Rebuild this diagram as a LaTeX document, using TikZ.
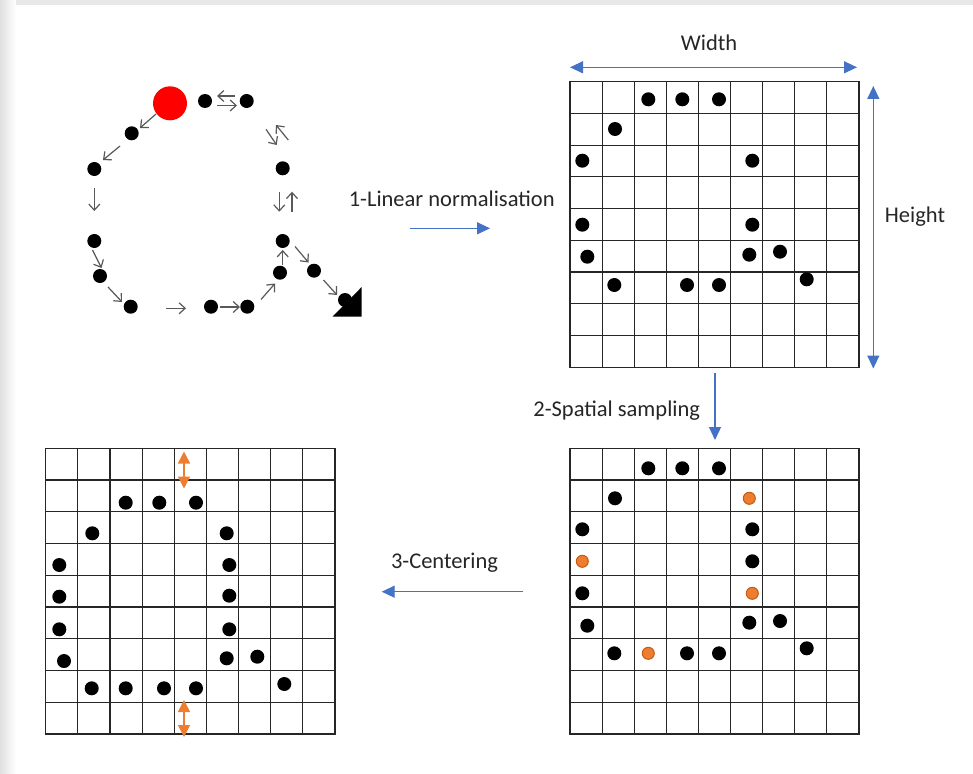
\documentclass[tikz,border=0pt]{standalone}
\usepackage{fontspec}
\setmainfont{Carlito}
\usetikzlibrary{arrows.meta}
\definecolor{blueA}{HTML}{4472C4}
\definecolor{orangeA}{HTML}{ED7D31}
\definecolor{orangeD}{HTML}{C55A11}
\definecolor{trajgray}{HTML}{595959}
\definecolor{txt}{HTML}{262626}
\newcommand\mygrid[4]{%
  \foreach \i in {0,...,9} {%
    \draw[gl] ({#1+\i*#3},#2) -- ({#1+\i*#3},{#2+9*#4});
    \draw[gl] (#1,{#2+\i*#4}) -- ({#1+9*#3},{#2+\i*#4});
  }}
\begin{document}
\begin{tikzpicture}[x=1pt,y=-1pt,
  bdot/.style={circle,fill=black,inner sep=0pt,minimum size=14pt},
  odot/.style={circle,fill=orangeA,draw=orangeD,line width=1pt,inner sep=0pt,minimum size=12pt},
  gl/.style={line width=1.2pt,draw=black!85,line cap=rect},
  traj/.style={draw=trajgray,line width=1.2pt,-{Straight Barb[length=6pt,width=11pt]}},
  bluearr/.style={draw=blueA,line width=1.3pt,-{Triangle[length=13pt,width=12pt]}},
  bluedbl/.style={draw=blueA,line width=1.3pt,{Triangle[length=13pt,width=12pt]}-{Triangle[length=13pt,width=12pt]}},
  oarr/.style={draw=orangeA,line width=1.6pt,{Triangle[length=12pt,width=12pt]}-{Triangle[length=12pt,width=12pt]}},
  lbl/.style={text=txt,font=\fontsize{22.5}{27}\selectfont,inner sep=0pt},
]
\useasboundingbox (0,0) rectangle (973,773);
% page shadow
\fill[white] (0,0) rectangle (973,773);
\fill[black!9] (0,0) rectangle (973,5);
\shade[left color=black!12,right color=white] (0,0) rectangle (16,773);

% ---------- trajectory ----------
\node[circle,fill=red,inner sep=0pt,minimum size=34pt] (red) at (170,103.3) {};
\node[bdot] (t1) at (205,101) {};
\node[bdot] (t2) at (246.7,101) {};
\node[bdot] (t3) at (131.7,133.3) {};
\node[bdot] (t4) at (94.3,169) {};
\node[bdot] (t5) at (282.7,168.3) {};
\node[bdot] (t6) at (94.3,241) {};
\node[bdot] (t7) at (282.7,241) {};
\node[bdot] (t8) at (100,276) {};
\node[bdot] (t9) at (280,272.7) {};
\node[bdot] (t10) at (314,270.7) {};
\node[bdot] (t11) at (130.7,306.7) {};
\node[bdot] (t12) at (211,306.7) {};
\node[bdot] (t13) at (247.3,306.7) {};
\fill[black] (332.7,316.5) -- (361.7,316.5) -- (361.7,287) -- cycle;
\node[bdot] (t14) at (345,300) {};

\draw[traj] (156,114) -- (140,128);
\draw[traj] (120,146) -- (103,160);
\draw[traj] (94.3,188) -- (94.3,211);
\draw[traj] (92.5,250) -- (101.5,268);
\draw[traj] (108,287) -- (122,302);
\draw[traj] (166,308.3) -- (186,308.3);
\draw[traj] (219.5,307) -- (240,307);
\draw[traj] (261,299.5) -- (275,283.5);
\draw[traj] (282.7,265) -- (282.7,250);
\draw[traj] (295,246.5) -- (308.5,262.5);
\draw[traj] (323.5,280) -- (337,295);
\draw[traj] (235,96) -- (217,96);
\draw[traj] (217,105.5) -- (237,105.5);
\draw[traj] (266,129.3) -- (276.7,145);
\draw[traj] (288.3,140) -- (276,125);
\draw[traj] (279.3,191.7) -- (279.3,211.7);
\draw[traj] (292,211.7) -- (292,191.7);

% ---------- grid A ----------
\mygrid{570}{81.7}{32.11}{31.73}
\foreach \x/\y [count=\k] in {648.3/99.3,682.3/99.3,719/99.3,615/129,582.3/160.7,752.3/160.7,582.3/224.7,752.3/224.7,587.3/256.7,749.3/254.7,780/251.7,614.3/285,687/285,719/285,806.7/279.3}
  \node[bdot] (a\k) at (\x,\y) {};

% ---------- grid B ----------
\mygrid{570}{448.3}{32.11}{31.74}
\foreach \x/\y [count=\k] in {648.3/468.3,682.3/468.3,719/468.3,615/498.3,582.3/529.3,752.3/529.3,752.3/561.3,582.3/593.3,587.3/625.7,749.3/622.7,780/621,614.3/653.3,687/653.3,719/653.3,806.7/648.3}
  \node[bdot] (b\k) at (\x,\y) {};
\foreach \x/\y [count=\k] in {749.3/498.3,582.3/561.3,752.3/593.3,648.3/653.3}
  \node[odot] (o\k) at (\x,\y) {};

% ---------- grid C ----------
\mygrid{45.7}{448.3}{32.14}{31.74}
\foreach \x/\y [count=\k] in {125.7/502.7,159.3/502.7,196/502.7,92.3/533.3,226.7/533.3,59.3/565,229.3/565,59.3/596.7,229.3/595.7,59.3/629.3,229.3/629.3,64/661,226.7/658.3,257.3/656.7,91.7/688.3,125.7/688.3,164/688.3,196/688.3,284.3/684}
  \node[bdot] (c\k) at (\x,\y) {};
\coordinate (ot1) at (184,451.5); \coordinate (ot2) at (184,488.5);
\coordinate (ob1) at (184,700); \coordinate (ob2) at (184,737);
\draw[oarr] (ot1) -- (ot2);
\draw[oarr] (ob1) -- (ob2);

% ---------- blue arrows & labels ----------
\coordinate (l1s) at (410,228.3); \coordinate (l1e) at (490,228.3);
\coordinate (w1) at (570,67.3); \coordinate (w2) at (857,67.3);
\coordinate (h1) at (873.3,86); \coordinate (h2) at (873.3,368.5);
\coordinate (s1) at (715,373.3); \coordinate (s2) at (715,440);
\coordinate (c1) at (523.3,591.7); \coordinate (c2) at (381.7,591.7);
\draw[bluearr] (l1s) -- (l1e);
\draw[bluedbl] (w1) -- (w2);
\draw[bluedbl] (h1) -- (h2);
\draw[bluearr] (s1) -- (s2);
\draw[bluearr] (c1) -- (c2);

\node[lbl] (tw) at (709,43) {Width};
\node[lbl] (th) at (915,216.7) {Height};
\node[lbl] (tl) at (451.7,199) {1-Linear normalisation};
\node[lbl] (ts) at (616.7,411) {2-Spatial sampling};
\node[lbl] (tc) at (444.5,563) {3-Centering};
\end{tikzpicture}
\end{document}
